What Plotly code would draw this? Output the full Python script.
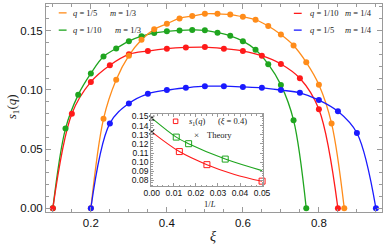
import plotly.graph_objects as go

# ---------------- data ----------------
green_xi = [0.1000, 0.1333, 0.1667, 0.2000, 0.2333, 0.2667, 0.3000, 0.3333, 0.3667, 0.4000, 0.4333,
            0.4667, 0.5000, 0.5333, 0.5667, 0.6000, 0.6333, 0.6667, 0.7000, 0.7333, 0.7667]
green_s = [0.0, 0.0673, 0.0958, 0.1139, 0.1281, 0.1350, 0.1411, 0.1453, 0.1481, 0.1494, 0.1502,
           0.1506, 0.1503, 0.1483, 0.1456, 0.1411, 0.1339, 0.1217, 0.1042, 0.0744, 0.0]

orange_xi = [0.2000, 0.2333, 0.2667, 0.3000, 0.3333, 0.3667, 0.4000, 0.4333, 0.4667, 0.5000, 0.5333,
             0.5667, 0.6000, 0.6333, 0.6667, 0.7000, 0.7333, 0.7667, 0.8000, 0.8333, 0.8667]
orange_s = [0.0, 0.0756, 0.1086, 0.1289, 0.1423, 0.1511, 0.1558, 0.1603, 0.1623, 0.1642, 0.1642,
            0.1636, 0.1617, 0.1592, 0.1539, 0.1467, 0.1375, 0.1233, 0.1044, 0.0717, 0.0]

red_xi = [0.10, 0.15, 0.20, 0.25, 0.30, 0.35, 0.40, 0.45, 0.50, 0.55, 0.60, 0.65, 0.70, 0.75, 0.80, 0.85]
red_s = [0.0, 0.0798, 0.1067, 0.1208, 0.1300, 0.1328, 0.1348, 0.1358, 0.1361, 0.1348, 0.1328,
         0.1289, 0.1219, 0.1098, 0.0836, 0.0]

blue_xi = [0.20, 0.25, 0.30, 0.35, 0.40, 0.45, 0.50, 0.55, 0.60, 0.65, 0.70, 0.75, 0.80, 0.85, 0.90, 0.95]
blue_s = [0.0, 0.0717, 0.0886, 0.0967, 0.0998, 0.1017, 0.1031, 0.1031, 0.1025, 0.1017, 0.0998,
          0.0975, 0.0914, 0.0819, 0.0636, 0.0]

# inset: finite-size scaling at xi = 0.4
inset_green_invL = [0.0111, 0.0167, 0.0333]
inset_green_s = [0.1274, 0.1202, 0.1034]
inset_red_invL = [0.0125, 0.025, 0.05]
inset_red_s = [0.1116, 0.0973, 0.0793]
theory_invL = [0.0, 0.0]
theory_s = [0.1482, 0.1331]
fit_green_invL = [0.0, 0.0111, 0.0167, 0.0333, 0.05]
fit_green_s = [0.1482, 0.1274, 0.1202, 0.1034, 0.0908]
fit_red_invL = [0.0, 0.0125, 0.025, 0.0375, 0.05]
fit_red_s = [0.1331, 0.1116, 0.0973, 0.0866, 0.0791]

x_ticks = [0.2, 0.4, 0.6, 0.8]
y_ticks = [0.00, 0.05, 0.10, 0.15]
inset_x_ticks = [0.00, 0.01, 0.02, 0.03, 0.04, 0.05]
inset_y_ticks = [0.08, 0.09, 0.10, 0.11, 0.12, 0.13, 0.14, 0.15]

ORANGE = "#ff8c1a"
GREEN = "#1fa51f"
RED = "#ff1a1a"
BLUE = "#1a1aff"
FRAME = "#9a9a9a"

W, H = 390, 248
L_M, R_M, T_M, B_M = 46, 1, 1, 36
PW, PH = W - L_M - R_M, H - T_M - B_M


def px(x):
    return (x - L_M) / PW


def py(y):
    return (H - B_M - y) / PH


fig = go.Figure()

series = [
    (green_xi, green_s, GREEN),
    (red_xi, red_s, RED),
    (orange_xi, orange_s, ORANGE),
    (blue_xi, blue_s, BLUE),
]
for xs, ys, col in series:
    fig.add_trace(go.Scatter(x=xs, y=ys, mode="lines", line=dict(color=col, width=1.3, shape="spline", smoothing=1.0),
                             showlegend=False, hoverinfo="skip"))
for xs, ys, col in series:
    fig.add_trace(go.Scatter(x=xs, y=ys, mode="markers", marker=dict(color=col, size=6), cliponaxis=False,
                             showlegend=False, hoverinfo="skip"))

# inset traces
fig.add_trace(go.Scatter(x=fit_green_invL, y=fit_green_s, mode="lines", xaxis="x2", yaxis="y2",
                         line=dict(color=GREEN, width=1.1, shape="spline"), showlegend=False))
fig.add_trace(go.Scatter(x=fit_red_invL, y=fit_red_s, mode="lines", xaxis="x2", yaxis="y2",
                         line=dict(color=RED, width=1.1, shape="spline"), showlegend=False))
fig.add_trace(go.Scatter(x=inset_green_invL, y=inset_green_s, mode="markers", xaxis="x2", yaxis="y2",
                         cliponaxis=False,
                         marker=dict(symbol="square-open", size=6, color=GREEN, line=dict(width=1)), showlegend=False))
fig.add_trace(go.Scatter(x=inset_red_invL, y=inset_red_s, mode="markers", xaxis="x2", yaxis="y2",
                         cliponaxis=False,
                         marker=dict(symbol="square-open", size=6, color=RED, line=dict(width=1)), showlegend=False))
fig.add_trace(go.Scatter(x=theory_invL, y=theory_s, mode="markers", xaxis="x2", yaxis="y2", cliponaxis=False,
                         marker=dict(symbol="x-thin", size=5, color="#222", line=dict(width=1.2, color="#222")),
                         showlegend=False))

tickfont = dict(family="Liberation Sans, Arial, sans-serif", size=11.5, color="#111")
small_tickfont = dict(family="Liberation Sans, Arial, sans-serif", size=8.5, color="#111")

fig.update_layout(
    width=W, height=H,
    margin=dict(l=L_M, r=R_M, t=T_M, b=B_M),
    paper_bgcolor="white", plot_bgcolor="white",
    xaxis=dict(range=[0.082, 0.966], tickvals=x_ticks, ticktext=[f"{v:.1f}" for v in x_ticks],
               ticks="inside", ticklen=5, tickcolor=FRAME, showline=True, linecolor=FRAME, linewidth=1,
               mirror="ticks", showgrid=False, zeroline=False, tickfont=tickfont,
               minor=dict(dtick=0.05, ticks="inside", ticklen=3, tickcolor=FRAME)),
    yaxis=dict(range=[-0.0031, 0.1725], tickvals=y_ticks, ticktext=[f"{v:.2f}" for v in y_ticks],
               ticks="inside", ticklen=5, tickcolor=FRAME, showline=True, linecolor=FRAME, linewidth=1,
               mirror="ticks", showgrid=False, zeroline=False, tickfont=tickfont,
               minor=dict(dtick=0.01, ticks="inside", ticklen=3, tickcolor=FRAME)),
    xaxis2=dict(domain=[px(153.3), px(267.7)], anchor="y2", range=[-0.0003, 0.0505],
                tickvals=inset_x_ticks, ticktext=[f"{v:.2f}" for v in inset_x_ticks],
                ticks="inside", ticklen=3, tickcolor=FRAME, showline=True, linecolor=FRAME, linewidth=1,
                mirror="ticks", showgrid=False, zeroline=False, tickfont=small_tickfont,
                ticklabelstandoff=-2,
                minor=dict(dtick=0.0025, ticks="inside", ticklen=1.5, tickcolor=FRAME)),
    yaxis2=dict(domain=[py(186), py(112.7)], anchor="x2", range=[0.0736, 0.1525],
                tickvals=inset_y_ticks, ticktext=[f"{v:.2f}" for v in inset_y_ticks],
                ticks="inside", ticklen=3, tickcolor=FRAME, showline=True, linecolor=FRAME, linewidth=1,
                mirror="ticks", showgrid=False, zeroline=False, tickfont=small_tickfont,
                minor=dict(dtick=0.0025, ticks="inside", ticklen=1.5, tickcolor=FRAME)),
)

serif = "Liberation Serif, Times New Roman, serif"
ann = []
shapes = []


def text(x, y, s, size=9, xanchor="left", color="#222", angle=0):
    ann.append(dict(x=px(x), y=py(y), xref="paper", yref="paper", text=s, showarrow=False,
                    xanchor=xanchor, yanchor="middle", textangle=angle,
                    font=dict(family=serif, size=size, color=color)))


# axis titles
text(12, 105, "<i>s</i><sub>1</sub>(<i>q</i>)", size=13, xanchor="center", angle=-90)
text(216.7, 237, "<i>ξ</i>", size=14, xanchor="center")
text(213, 204, "1/<i>L</i>", size=8.5, xanchor="center")

# main legend
legend_rows = [
    (59, 67, 10, ORANGE, 71.7, "<i>q</i> = 1/5", 109, "<i>m</i> = 1/3"),
    (59, 67, 27.5, GREEN, 71.7, "<i>q</i> = 1/10", 114, "<i>m</i> = 1/3"),
    (299, 307, 10.5, RED, 313, "<i>q</i> = 1/10", 349, "<i>m</i> = 1/4"),
    (299, 307, 27.5, BLUE, 313, "<i>q</i> = 1/5", 349, "<i>m</i> = 1/4"),
]
for x0, x1, yy, col, tq, sq, tm, sm in legend_rows:
    shapes.append(dict(type="line", xref="paper", yref="paper", x0=px(x0), x1=px(x1), y0=py(yy), y1=py(yy),
                       line=dict(color=col, width=1.3)))
    text(tq, yy, sq, size=8.5)
    text(tm, yy, sm, size=8.5)

# inset legend
shapes.append(dict(type="rect", xref="paper", yref="paper", x0=px(176), x1=px(180.6), y0=py(122.3), y1=py(117.7),
                   line=dict(color=RED, width=1), fillcolor="rgba(0,0,0,0)"))
text(190, 120, "<i>s</i><sub>1</sub>(<i>q</i>)", size=8.5)
text(236, 120, "(<i>ξ</i> = 0.4)", size=8.5, xanchor="center")
text(200, 134, "×", size=9, xanchor="center")
text(208, 134, "Theory", size=8.5)

fig.update_layout(annotations=ann, shapes=shapes)

fig.write_html("out.html", config={"displayModeBar": False},
               post_script="document.body.style.margin='0';document.body.style.overflow='hidden';")
